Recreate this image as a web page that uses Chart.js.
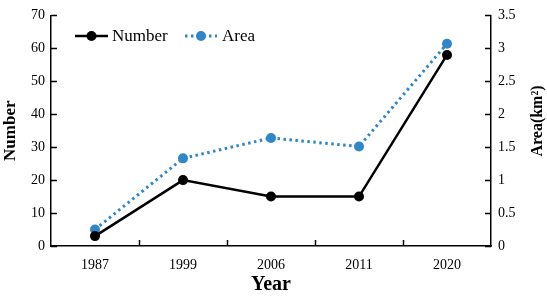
<!DOCTYPE html>
<html>
<head>
<meta charset="utf-8">
<script src="https://cdn.jsdelivr.net/npm/chart.js@4/dist/chart.umd.min.js"></script>
<style>
    html, body { margin: 0; padding: 0; background: #fff; }
    #wrap { width: 547px; height: 297px; }
</style>
</head>
<body>
<div id="wrap"><canvas id="myChart"></canvas></div>
<script>
const years = ['1987', '1999', '2006', '2011', '2020'];
const numberValues = [3, 20, 15, 15, 58];
const areaValues = [0.25, 1.33, 1.64, 1.51, 3.07];
const numberTicks = [0, 10, 20, 30, 40, 50, 60, 70];
const areaTicks = [0, 0.5, 1, 1.5, 2, 2.5, 3, 3.5];

const BLUE = '#2f86c8';
const FONT = "'Liberation Serif', 'Times New Roman', serif";


// ticks drawn inward, x ticks between categories, right title read upward
const innerTicks = {
    id: 'innerTicks',
    afterDraw(chart) {
        const ctx = chart.ctx;
        const x = chart.scales.x;
        const y = chart.scales.y;
        const y1 = chart.scales.y1;
        const len = 6;
        ctx.save();
        ctx.strokeStyle = '#000';
        ctx.lineWidth = 1.5;
        ctx.beginPath();
        numberTicks.forEach(v => {
            const py = Math.round(y.getPixelForValue(v)) + 0.5;
            ctx.moveTo(y.right, py);
            ctx.lineTo(y.right + len, py);
        });
        areaTicks.forEach(v => {
            const py = Math.round(y1.getPixelForValue(v)) + 0.5;
            ctx.moveTo(y1.left, py);
            ctx.lineTo(y1.left - len, py);
        });
        for (let i = 0; i < years.length - 1; i++) {
            const px = Math.round((x.getPixelForValue(i) + x.getPixelForValue(i + 1)) / 2) + 0.5;
            ctx.moveTo(px, x.top);
            ctx.lineTo(px, x.top - len);
        }
        ctx.stroke();

        ctx.translate(538, 121);
        ctx.rotate(-Math.PI / 2);
        ctx.font = 'bold 16px ' + FONT;
        ctx.textAlign = 'center';
        ctx.textBaseline = 'middle';
        ctx.fillStyle = '#000';
        ctx.fillText('Area(km²)', 0, 0);
        ctx.restore();
    }
};


// legend in the upper left of the plot
const legendBox = {
    id: 'legendBox',
    afterDraw(chart) {
        const ctx = chart.ctx;
        const yy = 36;
        ctx.save();
        ctx.font = '17px ' + FONT;
        ctx.textBaseline = 'middle';
        ctx.fillStyle = '#000';

        ctx.strokeStyle = '#000';
        ctx.lineWidth = 2.5;
        ctx.beginPath();
        ctx.moveTo(75, yy);
        ctx.lineTo(108, yy);
        ctx.stroke();
        ctx.beginPath();
        ctx.arc(91.5, yy, 5, 0, Math.PI * 2);
        ctx.fill();
        ctx.fillText('Number', 112, yy + 1);

        ctx.strokeStyle = BLUE;
        ctx.fillStyle = BLUE;
        ctx.lineWidth = 3;
        ctx.setLineDash([2.5, 3.5]);
        ctx.beginPath();
        ctx.moveTo(185, yy);
        ctx.lineTo(217, yy);
        ctx.stroke();
        ctx.setLineDash([]);
        ctx.beginPath();
        ctx.arc(201, yy, 5, 0, Math.PI * 2);
        ctx.fill();
        ctx.fillStyle = '#000';
        ctx.fillText('Area', 222, yy + 1);
        ctx.restore();
    }
};


function renderChart() {
    const ctx = document.getElementById('myChart');

    new Chart(ctx, {
        type: 'line',
        data: {
            labels: years,
            datasets: [{
                label: 'Number',
                data: numberValues,
                yAxisID: 'y',
                borderColor: '#000',
                backgroundColor: '#000',
                borderWidth: 2.5,
                pointRadius: 5,
                pointHoverRadius: 5,
                pointBackgroundColor: '#000',
                pointBorderWidth: 0
            }, {
                label: 'Area',
                data: areaValues,
                yAxisID: 'y1',
                borderColor: BLUE,
                backgroundColor: BLUE,
                borderWidth: 3,
                borderDash: [2.5, 3.5],
                pointRadius: 5,
                pointHoverRadius: 5,
                pointBackgroundColor: BLUE,
                pointBorderWidth: 0
            }]
        },
        options: {
            responsive: true,
            maintainAspectRatio: false,
            animation: false,
            layout: { padding: { top: 6, left: 0, right: 0, bottom: 0 } },
            plugins: {
                legend: { display: false },
                tooltip: { enabled: false }
            },
            scales: {
                x: {
                    offset: true,
                    grid: { display: false, drawTicks: false },
                    border: { display: true, color: '#000', width: 1.5 },
                    ticks: {
                        color: '#000',
                        padding: 11,
                        font: { family: FONT, size: 14 }
                    },
                    title: {
                        display: true,
                        text: 'Year',
                        color: '#000',
                        padding: { top: 1, bottom: 0 },
                        font: { family: FONT, size: 20, weight: 'bold' }
                    },
                    afterFit(scale) { scale.height = 51; }
                },
                y: {
                    position: 'left',
                    min: 0,
                    max: 70,
                    afterBuildTicks(scale) { scale.ticks = numberTicks.map(v => ({ value: v })); },
                    grid: { display: false, drawTicks: false },
                    border: { display: true, color: '#000', width: 1.5 },
                    ticks: {
                        color: '#000',
                        padding: 6,
                        font: { family: FONT, size: 14 }
                    },
                    title: {
                        display: true,
                        text: 'Number',
                        color: '#000',
                        padding: { top: 0, bottom: 0 },
                        font: { family: FONT, size: 17, weight: 'bold' }
                    },
                    afterFit(scale) { scale.width = 51; }
                },
                y1: {
                    position: 'right',
                    min: 0,
                    max: 3.5,
                    afterBuildTicks(scale) { scale.ticks = areaTicks.map(v => ({ value: v })); },
                    grid: { display: false, drawTicks: false },
                    border: { display: true, color: '#000', width: 1.5 },
                    ticks: {
                        color: '#000',
                        padding: 7,
                        font: { family: FONT, size: 14 },
                        callback: v => String(v)
                    },
                    afterFit(scale) { scale.width = 56; }
                }
            }
        },
        plugins: [innerTicks, legendBox]
    });
}

renderChart();
</script>
</body>
</html>
